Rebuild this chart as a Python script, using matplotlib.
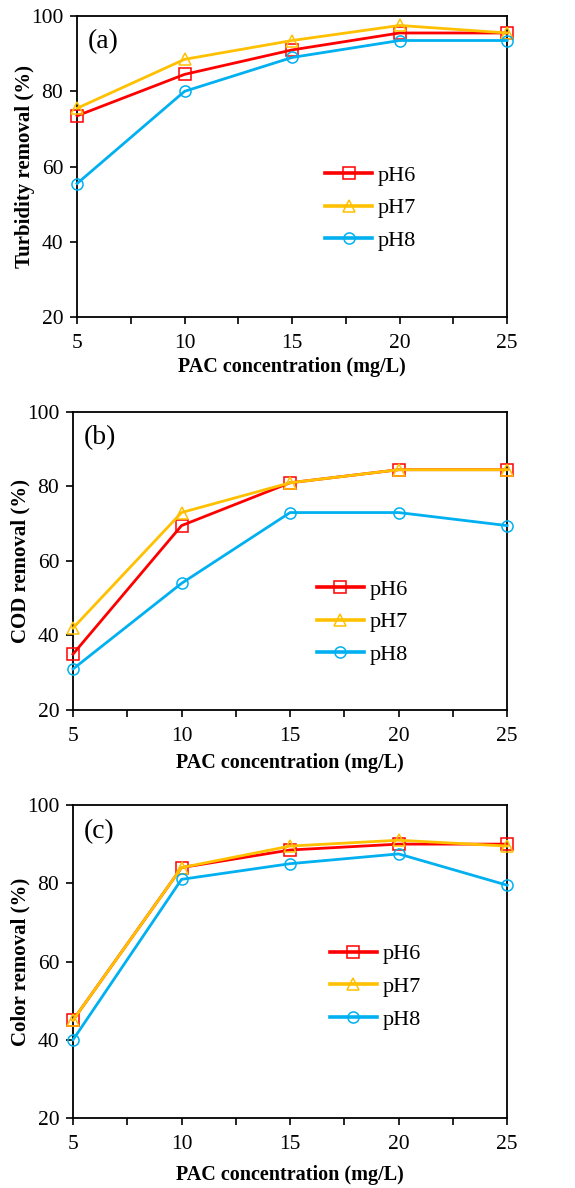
import numpy as np
import matplotlib.pyplot as plt
from matplotlib.ticker import MultipleLocator

plt.rcParams["font.family"] = ["Liberation Serif", "DejaVu Serif"]

pac = [5, 10, 15, 20, 25]
series_names = ["pH6", "pH7", "pH8"]

turb_ph6 = [73.5, 84.5, 91.0, 95.5, 95.5]
turb_ph7 = [75.5, 88.5, 93.5, 97.5, 95.5]
turb_ph8 = [55.5, 80.0, 89.0, 93.5, 93.5]

cod_ph6 = [35.0, 69.5, 81.0, 84.5, 84.5]
cod_ph7 = [42.0, 73.0, 81.0, 84.5, 84.5]
cod_ph8 = [31.0, 54.0, 73.0, 73.0, 69.5]

color_ph6 = [45.0, 84.0, 88.5, 90.0, 90.0]
color_ph7 = [45.0, 84.0, 89.5, 91.0, 89.5]
color_ph8 = [40.0, 81.0, 85.0, 87.5, 79.5]

ylabels = ["Turbidity removal (%)", "COD removal (%)", "Color removal (%)"]
panel_tags = ["(a)", "(b)", "(c)"]

colors = ["#FF0000", "#FFC000", "#00B0F0"]
markers = ["s", "^", "o"]

fig = plt.figure(figsize=(5.75, 11.88), dpi=100)
boxes = [[0.134, 0.733, 0.748, 0.2535],
         [0.127, 0.4024, 0.755, 0.2508],
         [0.127, 0.0589, 0.755, 0.2635]]
data = [[turb_ph6, turb_ph7, turb_ph8],
        [cod_ph6, cod_ph7, cod_ph8],
        [color_ph6, color_ph7, color_ph8]]
legend_pos = [(0.577, 0.362), (0.562, 0.295), (0.592, 0.419)]
xlab_pad = [3, 5, 8]

for i in range(3):
    ax = fig.add_axes(boxes[i])
    for vals, name, c, m in zip(data[i], series_names, colors, markers):
        ax.plot(pac, vals, color=c, lw=2, marker=m, ms=8,
                mfc="none", mec=c, mew=1.1, label=name, clip_on=False,
                zorder=3)
    ax.set_xlim(5, 25)
    ax.set_ylim(20, 100)
    ax.xaxis.set_major_locator(MultipleLocator(5))
    ax.xaxis.set_minor_locator(MultipleLocator(2.5))
    ax.yaxis.set_major_locator(MultipleLocator(20))
    ax.tick_params(which="both", direction="out", length=5, width=1.2,
                   labelsize=15.5)
    ax.tick_params(axis="x", pad=7)
    ax.tick_params(axis="y", pad=5)
    for sp in ax.spines.values():
        sp.set_linewidth(1.3)
    ax.set_xlabel("PAC concentration (mg/L)", fontsize=14.5,
                  fontweight="bold", labelpad=xlab_pad[i])
    ax.set_ylabel(ylabels[i], fontsize=15, fontweight="bold", labelpad=-3)
    ax.text(0.025, 0.955, panel_tags[i], transform=ax.transAxes,
            fontsize=20, va="top", ha="left")
    ax.legend(loc="center left", bbox_to_anchor=legend_pos[i], frameon=False,
              fontsize=16, handlelength=2.1, handletextpad=0.25,
              labelspacing=0.55, markerscale=1.0, borderpad=0,
              borderaxespad=0)
    for ln in ax.get_legend().get_lines():
        ln.set_linewidth(2.6)

fig.savefig("out.png", dpi=100)
